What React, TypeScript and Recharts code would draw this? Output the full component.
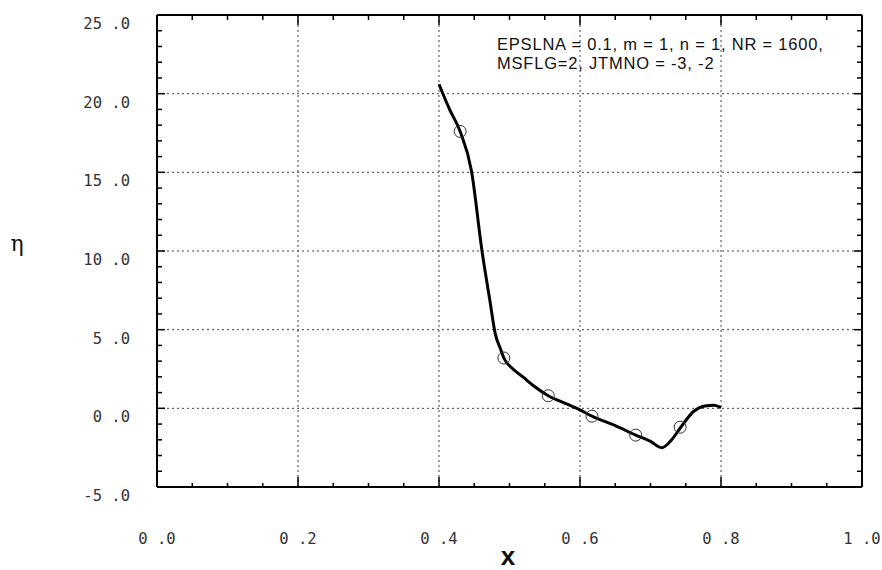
import React from 'react';
import { ComposedChart, Line, Scatter, XAxis, YAxis, ReferenceLine } from 'recharts';

// curve
const curveX = [0.400, 0.415, 0.430, 0.446, 0.461, 0.472, 0.480, 0.487, 0.492, 0.505, 0.519, 0.535, 0.555, 0.580, 0.600, 0.617, 0.650, 0.679, 0.700, 0.716, 0.728, 0.743, 0.761, 0.777, 0.790, 0.800];
const curveY = [20.6, 19.0, 17.6, 15.1, 10.0, 6.9, 4.7, 3.8, 3.2, 2.5, 2.0, 1.4, 0.8, 0.3, -0.1, -0.5, -1.1, -1.7, -2.1, -2.5, -2.1, -1.2, -0.2, 0.15, 0.2, 0.05];

// open circle markers
const markerX = [0.430, 0.492, 0.555, 0.617, 0.679, 0.742];
const markerY = [17.6, 3.2, 0.8, -0.5, -1.7, -1.2];

const xTicks = [0, 0.05, 0.1, 0.15, 0.2, 0.25, 0.3, 0.35, 0.4, 0.45, 0.5, 0.55, 0.6, 0.65, 0.7, 0.75, 0.8, 0.85, 0.9, 0.95, 1.0];
const yTicks = [-5, -4, -3, -2, -1, 0, 1, 2, 3, 4, 5, 6, 7, 8, 9, 10, 11, 12, 13, 14, 15, 16, 17, 18, 19, 20, 21, 22, 23, 24, 25];
const xGrid = [0.2, 0.4, 0.6, 0.8];
const yGrid = [0, 5, 10, 15, 20];

const annotation1 = 'EPSLNA = 0.1, m = 1, n = 1, NR = 1600,';
const annotation2 = 'MSFLG=2, JTMNO = -3, -2';

const curve = curveX.map((x, i) => ({ x, y: curveY[i] }));
const markers = markerX.map((x, i) => ({ x, y: markerY[i] }));

const fmt = (v: number) => v.toFixed(1).replace('.', ' .');
const isMajorX = (v: number) => Math.abs(v * 5 - Math.round(v * 5)) < 1e-6;
const isMajorY = (v: number) => Math.abs(v / 5 - Math.round(v / 5)) < 1e-6;

const labelStyle = { fontFamily: 'DejaVu Sans Mono', fontSize: 15.5, fill: '#333' };

const XTickBottom = (props: any) => {
  const { x, y, payload } = props;
  const major = isMajorX(payload.value);
  return (
    <g>
      <line x1={x} x2={x} y1={y} y2={y - (major ? 10 : 4)} stroke="#000" strokeWidth={1.5} />
      {major && (
        <text x={x} y={y + 57} textAnchor="middle" {...labelStyle}>{fmt(payload.value)}</text>
      )}
    </g>
  );
};

const XTickTop = (props: any) => {
  const { x, y, payload } = props;
  const major = isMajorX(payload.value);
  return <line x1={x} x2={x} y1={y} y2={y + (major ? 10 : 5)} stroke="#000" strokeWidth={1.5} />;
};

const YTickLeft = (props: any) => {
  const { x, y, payload } = props;
  const major = isMajorY(payload.value);
  return (
    <g>
      <line x1={x} x2={x + (major ? 8 : 5)} y1={y} y2={y} stroke="#000" strokeWidth={1.5} />
      {major && (
        <text x={x - 27} y={y + 14} textAnchor="end" {...labelStyle}>{fmt(payload.value)}</text>
      )}
    </g>
  );
};

const YTickRight = (props: any) => {
  const { x, y, payload } = props;
  const major = isMajorY(payload.value);
  return <line x1={x} x2={x - (major ? 8 : 5)} y1={y} y2={y} stroke="#000" strokeWidth={1.5} />;
};

const Marker = (props: any) => {
  const { cx, cy } = props;
  return <circle cx={cx} cy={cy} r={6} fill="none" stroke="#333" strokeWidth={1} />;
};

const axisLine = { stroke: '#000', strokeWidth: 2 };

export default function App() {
  return (
    <div style={{ position: 'fixed', left: 0, top: 0, width: 882, height: 570, background: '#fff' }}>
      <ComposedChart width={882} height={570} margin={{ top: 14, right: 19, bottom: 0, left: 0 }}>
        <XAxis
          dataKey="x" type="number" domain={[0, 1]} ticks={xTicks} interval={0}
          tickSize={0} tickMargin={0} height={83} axisLine={axisLine} tickLine={false}
          tick={(p: any) => <XTickBottom {...p} />} allowDataOverflow
        />
        <XAxis
          xAxisId="top" orientation="top" dataKey="x" type="number" domain={[0, 1]} ticks={xTicks} interval={0}
          tickSize={0} tickMargin={0} height={1} axisLine={axisLine} tickLine={false}
          tick={(p: any) => <XTickTop {...p} />} allowDataOverflow
        />
        <YAxis
          type="number" domain={[-5, 25]} ticks={yTicks} interval={0}
          tickSize={0} tickMargin={0} width={157} axisLine={axisLine} tickLine={false}
          tick={(p: any) => <YTickLeft {...p} />} allowDataOverflow
        />
        <YAxis
          yAxisId="right" orientation="right" type="number" domain={[-5, 25]} ticks={yTicks} interval={0}
          tickSize={0} tickMargin={0} width={1} axisLine={axisLine} tickLine={false}
          tick={(p: any) => <YTickRight {...p} />} allowDataOverflow
        />
        {xGrid.map((v) => (
          <ReferenceLine key={'gx' + v} x={v} stroke="#444" strokeDasharray="2 3" strokeWidth={1} />
        ))}
        {yGrid.map((v) => (
          <ReferenceLine key={'gy' + v} y={v} stroke="#444" strokeDasharray="2 3" strokeWidth={1} />
        ))}
        <Line data={curve} dataKey="y" type="monotone" stroke="#000" strokeWidth={3} dot={false} isAnimationActive={false} />
        <Scatter data={markers} dataKey="y" shape={(p: any) => <Marker {...p} />} isAnimationActive={false} />
      </ComposedChart>
      <svg width={882} height={570} style={{ position: 'absolute', left: 0, top: 0, pointerEvents: 'none' }}>
        <text x={17} y={251} textAnchor="middle" fontFamily="DejaVu Serif" fontSize={22} fill="#111">η</text>
        <text x={508} y={565} textAnchor="middle" fontFamily="Liberation Sans" fontWeight="bold" fontSize={26} fill="#111">x</text>
        <text x={497} y={50} fontFamily="Liberation Sans" fontSize={16.5} letterSpacing={0.8} fill="#111">{annotation1}</text>
        <text x={497} y={69} fontFamily="Liberation Sans" fontSize={16.5} letterSpacing={0.8} fill="#111">{annotation2}</text>
      </svg>
    </div>
  );
}
